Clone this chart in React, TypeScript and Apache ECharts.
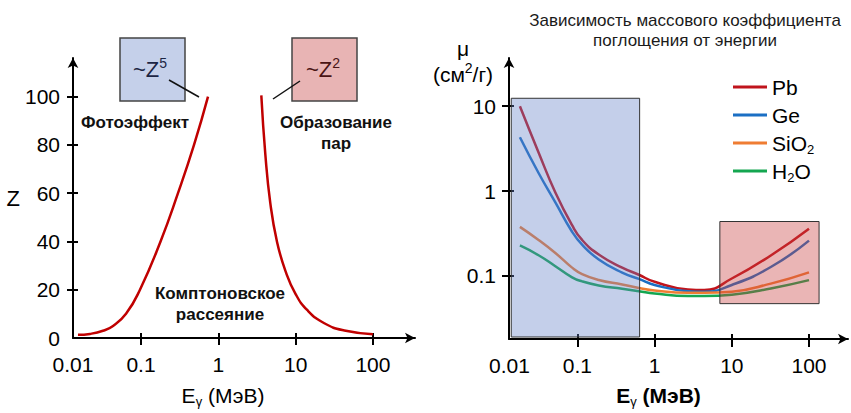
import React, { useEffect, useRef } from 'react';
import * as echarts from 'echarts';

const FONT = '"Liberation Sans", Arial, Helvetica, sans-serif';

// ---- Left panel: boundaries of dominant interaction regions (Z vs E, MeV)
const photoBoundaryE = [0.0153, 0.0219, 0.0322, 0.0435, 0.064, 0.097, 0.179, 0.301, 0.485, 0.736];
const photoBoundaryZ = [1.3, 1.7, 3, 5, 10, 20, 40, 60, 80, 100];
const pairBoundaryE = [3.6, 4.06, 4.7, 5.75, 7.4, 10, 14.2, 23.5, 42.7, 100];
const pairBoundaryZ = [100.5, 76, 56, 39.8, 27.7, 18.2, 11.5, 6.1, 3.1, 1.6];

const zLabelValues = [0, 20, 40, 60, 80, 100];
const zTickValues = [20, 40, 60, 80, 100];
const energyLabelValues = [0.0132, 0.1, 1, 10, 100];
const energyTickValues = [0.1, 1, 10, 100];

// ---- Right panel: mass attenuation coefficient (cm2/g) vs energy (MeV)
const energies = [0.018, 0.0314, 0.0518, 0.0853, 0.115, 0.189, 0.38, 0.625, 1, 2.7, 4.4, 10, 32, 100];
const muPb = [10, 2.85, 0.96, 0.395, 0.265, 0.178, 0.125, 0.103, 0.085, 0.069, 0.068, 0.093, 0.174, 0.36];
const muGe = [4.3, 1.63, 0.735, 0.331, 0.233, 0.156, 0.109, 0.092, 0.078, 0.066, 0.065, 0.078, 0.127, 0.26];
const muSiO2 = [0.378, 0.265, 0.186, 0.125, 0.105, 0.0895, 0.079, 0.072, 0.067, 0.063, 0.063, 0.065, 0.081, 0.11];
const muH2O = [0.228, 0.175, 0.13, 0.096, 0.086, 0.077, 0.0705, 0.066, 0.062, 0.058, 0.058, 0.06, 0.071, 0.089];
const materials = ['Pb', 'Ge', 'SiO2', 'H2O'];
const muLabelValues = [0.1, 1, 10];

const photoRegionE = [0.0139, 0.64];
const photoRegionMu = [0.019, 12.4];
const pairRegionE = [7, 135];
const pairRegionMu = [0.047, 0.437];

const zip = (xs: number[], ys: number[]) => xs.map((x, i) => [x, ys[i]]);

const fmtNum = (v: number) => {
  if (v < 0.05) return '0.01';
  return String(+Number(v).toPrecision(3));
};

const axisLineStyle = { color: '#000', width: 2 };

function mainAxis(extra: any) {
  return {
    splitLine: { show: false },
    axisLine: {
      show: true,
      onZero: false,
      lineStyle: axisLineStyle,
      symbol: ['none', 'arrow'],
      symbolSize: [8, 10],
    },
    ...extra,
  };
}

function dupAxis(extra: any, tickValues: number[]) {
  return {
    splitLine: { show: false },
    axisLine: { show: false },
    axisLabel: { show: false },
    axisTick: { show: true, inside: true, length: 5, lineStyle: axisLineStyle, customValues: tickValues },
    ...extra,
  };
}

const subRich = { sub: { fontSize: 13, lineHeight: 12, verticalAlign: 'bottom', fontFamily: FONT } };
const supRich = { sup: { fontSize: 14, lineHeight: 12, verticalAlign: 'top', fontFamily: FONT } };

const boldText = (x: number, y: number, text: string) => ({
  type: 'text', x, y,
  style: { text, fontSize: 17, fontWeight: 'bold', fontFamily: FONT, fill: '#111', align: 'center', verticalAlign: 'middle' },
});

const SMOOTH = 0.5;

export default function App() {
  const ref = useRef<HTMLDivElement>(null);

  useEffect(() => {
    if (!ref.current) return;
    const chart = echarts.init(ref.current, undefined, { renderer: 'svg' });

    const leftX = { type: 'log', logBase: 10, gridIndex: 0, min: 0.0132, max: 350 };
    const leftY = { type: 'value', gridIndex: 0, min: 0, max: 116 };
    const rightX = { type: 'log', logBase: 10, gridIndex: 1, min: 0.013, max: 320 };
    const rightY = { type: 'log', logBase: 10, gridIndex: 1, min: 0.018, max: 37 };

    const xLabel = (vals: number[]) => ({
      customValues: vals,
      formatter: (v: number) => fmtNum(v),
      fontSize: 21,
      color: '#000',
      margin: 16,
      fontFamily: FONT,
    });

    const lineSeries = (name: string, xi: number, xs: number[], ys: number[], color: string, silent = false) => ({
      name, type: 'line', xAxisIndex: xi, yAxisIndex: xi,
      data: zip(xs, ys), smooth: SMOOTH, symbol: 'none', silent,
      lineStyle: { color, width: 2.5 }, itemStyle: { color },
    });

    const option: any = {
      animation: false,
      backgroundColor: '#fff',
      textStyle: { fontFamily: FONT },
      title: {
        text: 'Зависимость массового коэффициента\nпоглощения от энергии',
        left: 685,
        top: 10,
        padding: 0,
        textAlign: 'center',
        textStyle: { fontSize: 17, fontWeight: 'normal', color: '#1a1a1a', lineHeight: 20, fontFamily: FONT },
      },
      legend: {
        data: materials,
        orient: 'vertical',
        left: 728,
        top: 69,
        icon: 'rect',
        itemWidth: 34,
        itemHeight: 3,
        itemGap: 2,
        formatter: (name: string) =>
          name === 'SiO2' ? 'SiO{sub|2}' : name === 'H2O' ? 'H{sub|2}O' : name,
        textStyle: { fontSize: 21, lineHeight: 26, color: '#000', fontFamily: FONT, rich: subRich },
      },
      grid: [
        { left: 73, top: 58, width: 342, height: 287 },
        { left: 509, top: 58, width: 339, height: 285 },
      ],
      xAxis: [
        mainAxis({
          ...leftX,
          position: 'bottom',
          axisTick: { show: true, length: 7, lineStyle: axisLineStyle, customValues: energyTickValues },
          axisLabel: xLabel(energyLabelValues),
          name: 'E{sub|γ} (МэВ)',
          nameLocation: 'middle',
          nameGap: 44,
          nameTextStyle: {
            fontSize: 21, color: '#000', lineHeight: 26, fontFamily: FONT,
            padding: [0, 42, 0, 0], rich: subRich,
          },
        }),
        dupAxis({ ...leftX, position: 'bottom' }, energyTickValues),
        mainAxis({
          ...rightX,
          position: 'bottom',
          axisTick: { show: true, length: 8, lineStyle: axisLineStyle, customValues: energyTickValues },
          axisLabel: xLabel([0.0132, 0.1, 1, 10, 100]),
          name: 'E{sub|γ} (МэВ)',
          nameLocation: 'middle',
          nameGap: 43,
          nameTextStyle: {
            fontSize: 21, color: '#000', lineHeight: 26, fontFamily: FONT, fontWeight: 'bold',
            padding: [0, 40, 0, 0], rich: { sub: { ...subRich.sub, fontWeight: 'normal' } },
          },
        }),
        dupAxis({ ...rightX, position: 'bottom' }, energyTickValues),
      ],
      yAxis: [
        mainAxis({
          ...leftY,
          position: 'left',
          axisTick: { show: true, length: 6, lineStyle: axisLineStyle, customValues: zTickValues },
          axisLabel: { customValues: zLabelValues, fontSize: 21, color: '#000', margin: 13, fontFamily: FONT },
          name: 'Z',
          nameLocation: 'middle',
          nameRotate: 0,
          nameGap: 51,
          nameTextStyle: { fontSize: 22, color: '#000', fontFamily: FONT, padding: [28, 0, 0, 0] },
        }),
        dupAxis({ ...leftY, position: 'left' }, zTickValues),
        mainAxis({
          ...rightY,
          position: 'left',
          axisTick: { show: true, length: 7, lineStyle: axisLineStyle, customValues: muLabelValues },
          axisLabel: {
            customValues: muLabelValues,
            formatter: (v: number) => fmtNum(v),
            fontSize: 21, color: '#000', margin: 13, fontFamily: FONT,
          },
        }),
        dupAxis({ ...rightY, position: 'left' }, muLabelValues),
      ],
      series: [
        lineSeries('photo', 0, photoBoundaryE, photoBoundaryZ, '#c00000', true),
        lineSeries('pair', 0, pairBoundaryE, pairBoundaryZ, '#c00000', true),
        lineSeries('Pb', 2, energies, muPb, '#c0141c'),
        lineSeries('Ge', 2, energies, muGe, '#1b6fc4'),
        lineSeries('SiO2', 2, energies, muSiO2, '#ef7d33'),
        {
          ...lineSeries('H2O', 2, energies, muH2O, '#14a650'),
          markArea: {
            silent: true,
            z: 10,
            itemStyle: { borderColor: '#333', borderWidth: 1 },
            label: { show: false },
            data: [
              [
                { coord: [photoRegionE[0], photoRegionMu[1]], itemStyle: { color: 'rgba(100,130,200,0.38)', borderColor: '#333', borderWidth: 1 } },
                { coord: [photoRegionE[1], photoRegionMu[0]] },
              ],
              [
                { coord: [pairRegionE[0], pairRegionMu[1]], itemStyle: { color: 'rgba(200,60,60,0.38)', borderColor: '#333', borderWidth: 1 } },
                { coord: [pairRegionE[1], pairRegionMu[0]] },
              ],
            ],
          },
        },
      ],
      graphic: [
        // left annotation boxes
        { type: 'rect', shape: { x: 120, y: 38, width: 65, height: 63 }, style: { fill: '#c5d0ea', stroke: '#444', lineWidth: 1.5 }, z: 10 },
        { type: 'rect', shape: { x: 292, y: 38, width: 65, height: 63 }, style: { fill: '#e8b4b4', stroke: '#444', lineWidth: 1.5 }, z: 10 },
        {
          type: 'text', x: 150, y: 69, z: 11,
          style: { text: '~Z{sup|5}', fontSize: 22, fontFamily: FONT, fill: '#1c2544', align: 'center', verticalAlign: 'middle', lineHeight: 26, rich: { sup: { ...supRich.sup, fill: '#1c2544' } } },
        },
        {
          type: 'text', x: 323, y: 69, z: 11,
          style: { text: '~Z{sup|2}', fontSize: 22, fontFamily: FONT, fill: '#4a1414', align: 'center', verticalAlign: 'middle', lineHeight: 26, rich: { sup: { ...supRich.sup, fill: '#4a1414' } } },
        },
        { type: 'line', shape: { x1: 169, y1: 80, x2: 199, y2: 97 }, style: { stroke: '#111', lineWidth: 1.5 }, z: 11 },
        { type: 'line', shape: { x1: 273, y1: 99, x2: 300, y2: 81 }, style: { stroke: '#111', lineWidth: 1.5 }, z: 11 },
        boldText(135, 122, 'Фотоэффект'),
        boldText(336, 122, 'Образование'),
        boldText(336, 143, 'пар'),
        boldText(220, 293, 'Комптоновское'),
        boldText(220, 314, 'рассеяние'),
        // right y-axis name
        { type: 'text', x: 463, y: 48, style: { text: 'μ', fontSize: 21, fontFamily: FONT, fill: '#000', align: 'center', verticalAlign: 'middle' } },
        {
          type: 'text', x: 463, y: 74,
          style: { text: '(см{sup|2}/г)', fontSize: 21, fontFamily: FONT, fill: '#000', align: 'center', verticalAlign: 'middle', lineHeight: 26, rich: { sup: { ...supRich.sup, fill: '#000' } } },
        },
      ],
    };

    chart.setOption(option);
    return () => chart.dispose();
  }, []);

  return (
    <div
      ref={ref}
      style={{ position: 'absolute', left: 0, top: 0, width: 851, height: 413, background: '#fff' }}
    />
  );
}
